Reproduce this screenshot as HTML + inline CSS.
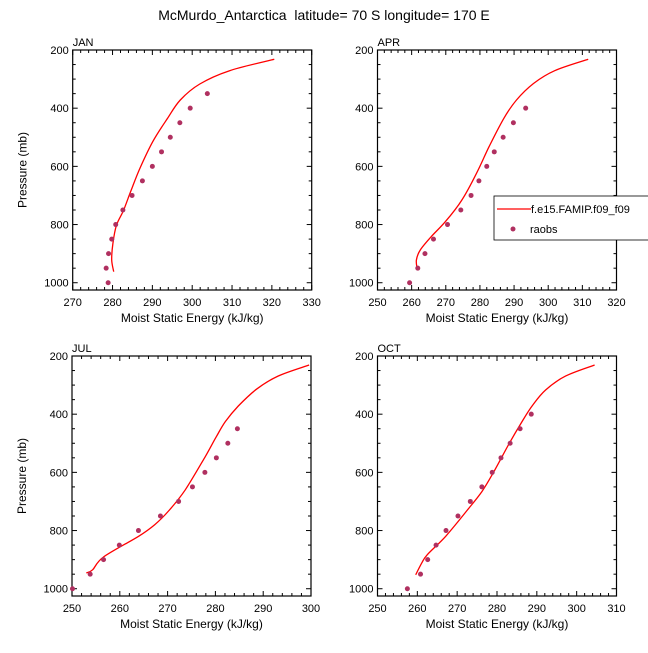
<!DOCTYPE html>
<html><head><meta charset="utf-8"><style>
body{margin:0;background:#fff}
svg text{font-family:"Liberation Sans",sans-serif;white-space:pre}
</style></head><body>
<svg id="c" width="648" height="648">
<text x="324" y="20" text-anchor="middle" font-size="14">McMurdo_Antarctica  latitude= 70 S longitude= 170 E</text>
</svg>
<script>
const panelNames=["JAN","APR","JUL","OCT"];
const xMins=[270,250,250,250];
const xMaxs=[330,320,300,310];
const xStep=[10,10,10,10];
const obsP=[1000,950,900,850,800,750,700,650,600,550,500,450,400,350];
const obsJAN=[278.9,278.4,279,279.8,280.8,282.6,284.9,287.5,290,292.3,294.5,296.9,299.5,303.8];
const obsAPR=[259.4,261.8,263.9,266.4,270.5,274.4,277.4,279.7,282,284.2,286.8,289.8,293.4,null];
const obsJUL=[250.1,253.8,256.6,259.9,263.9,268.5,272.3,275.2,277.8,280.2,282.6,284.6,null,null];
const obsOCT=[257.5,260.8,262.6,264.7,267.2,270.2,273.3,276.2,278.8,281,283.3,285.8,288.6,null];
const modPJAN=[232,271,317,372,435,515,606,681,750,802,865,922,962];
const modJAN=[320.6,309.4,301.9,297,293.8,290.1,286.9,284.7,282.8,281,280.1,279.8,280.3];
const modPAPR=[232,271,315,372,435,532,624,716,790,842,888,922,951];
const modAPR=[311.7,301.9,295.7,290.7,287,282.7,279,274.7,269.9,265.7,262.5,261.4,261.6];
const modPJUL=[231,269,314,372,425,477,545,660,731,780,820,891,935,946];
const modJUL=[299.6,293.1,288.6,284.8,282.1,280.2,277.9,273.7,270.3,267.3,263.9,256.6,254.3,253];
const modPOCT=[231,269,317,368,425,500,603,666,729,820,883,912,952];
const modOCT=[304.5,297.2,292.2,289,286.3,283.1,279,276.2,272.6,267.1,262.5,261.1,259.6];
const obsAll=[obsJAN,obsAPR,obsJUL,obsOCT];
const modAll=[modJAN,modAPR,modJUL,modOCT];
const modPAll=[modPJAN,modPAPR,modPJUL,modPOCT];
const yTicks=[200,400,600,800,1000];
const legendLabels=["f.e15.FAMIP.f09_f09","raobs"];

const svg=document.getElementById('c');
const NS="http://www.w3.org/2000/svg";
function mk(t,a,p){const e=document.createElementNS(NS,t);for(const k in a)e.setAttribute(k,a[k]);(p||svg).appendChild(e);return e;}
function smooth(pts){let d='M'+pts[0][0].toFixed(1)+','+pts[0][1].toFixed(1);
  for(let k=0;k<pts.length-1;k++){const p0=pts[Math.max(k-1,0)],p1=pts[k],p2=pts[k+1],p3=pts[Math.min(k+2,pts.length-1)];
    const c1=[p1[0]+(p2[0]-p0[0])/6,p1[1]+(p2[1]-p0[1])/6],c2=[p2[0]-(p3[0]-p1[0])/6,p2[1]-(p3[1]-p1[1])/6];
    d+='C'+c1.map(v=>v.toFixed(1)).join(',')+' '+c2.map(v=>v.toFixed(1)).join(',')+' '+p2[0].toFixed(1)+','+p2[1].toFixed(1);}
  return d;}
const boxes=[[72.7,50],[377.5,50],[72,356],[377.5,356]];
const W=239,H=240,PMIN=200,PMAX=1025;
for(let i=0;i<4;i++){
  const [bx,by]=boxes[i];
  const g=mk('g',{});
  
  
  const xs=v=>bx+(v-xMins[i])/(xMaxs[i]-xMins[i])*W;
  const ys=p=>by+(p-PMIN)/(PMAX-PMIN)*H;
  for(let v=xMins[i];v<=xMaxs[i]+0.01;v+=2){
    const maj=Math.abs((v-xMins[i])%xStep[i])<0.01;const L=maj?5:3;
    mk('line',{x1:xs(v),x2:xs(v),y1:by+H,y2:by+H-L,stroke:'#000','stroke-width':1},g);
    mk('line',{x1:xs(v),x2:xs(v),y1:by,y2:by+L,stroke:'#000','stroke-width':1},g);
    if(maj){const t=mk('text',{x:xs(v),y:by+H+16,'font-size':11,'text-anchor':'middle'},g);t.textContent=v;
      }
  }
  for(let p=200;p<=1000;p+=50){
    const maj=p%200===0;const L=maj?5:3;
    mk('line',{x1:bx,x2:bx+L,y1:ys(p),y2:ys(p),stroke:'#000'},g);
    mk('line',{x1:bx+W,x2:bx+W-L,y1:ys(p),y2:ys(p),stroke:'#000'},g);
  }
  yTicks.forEach(p=>{const t=mk('text',{x:bx-4,y:ys(p)+4,'font-size':11,'text-anchor':'end'},g);t.textContent=p;
    });
  mk('rect',{x:bx,y:by,width:W,height:H,fill:'none',stroke:'#000','stroke-width':1.2},g);
  const pt=mk('text',{x:bx,y:by-4,'font-size':11},g);pt.textContent=panelNames[i];
  
  const xl=mk('text',{x:bx+W/2,y:by+H+32,'font-size':12,'text-anchor':'middle'},g);xl.textContent='Moist Static Energy (kJ/kg)';
  
  if(i%2===0){const yl=mk('text',{x:0,y:0,'font-size':12,'text-anchor':'middle',transform:`translate(${bx-46},${by+H/2}) rotate(-90)`},g);yl.textContent='Pressure (mb)';
    }
  const pts=modAll[i].map((v,k)=>[xs(v),ys(modPAll[i][k])]);
  const ln=mk('path',{d:smooth(pts),fill:'none',stroke:'#f00','stroke-width':1.3,'stroke-linejoin':'round'},g);
  
  obsAll[i].forEach((v,k)=>{if(v==null)return;
    const c=mk('circle',{cx:xs(v),cy:ys(obsP[k]),r:2.5,fill:'#b03060'},g);
    });
}
const lg=mk('g',{});


mk('rect',{x:494,y:196,width:160,height:44,fill:'#fff',stroke:'#000','stroke-width':0.8},lg);
mk('line',{x1:497,x2:531,y1:209,y2:209,stroke:'#f00','stroke-width':1.3},lg);
const l1=mk('text',{x:531,y:213,'font-size':11},lg);l1.textContent=legendLabels[0];

mk('circle',{cx:513,cy:229,r:2.5,fill:'#b03060'},lg);
const l2=mk('text',{x:530,y:233,'font-size':11},lg);l2.textContent=legendLabels[1];

</script>
</body></html>
